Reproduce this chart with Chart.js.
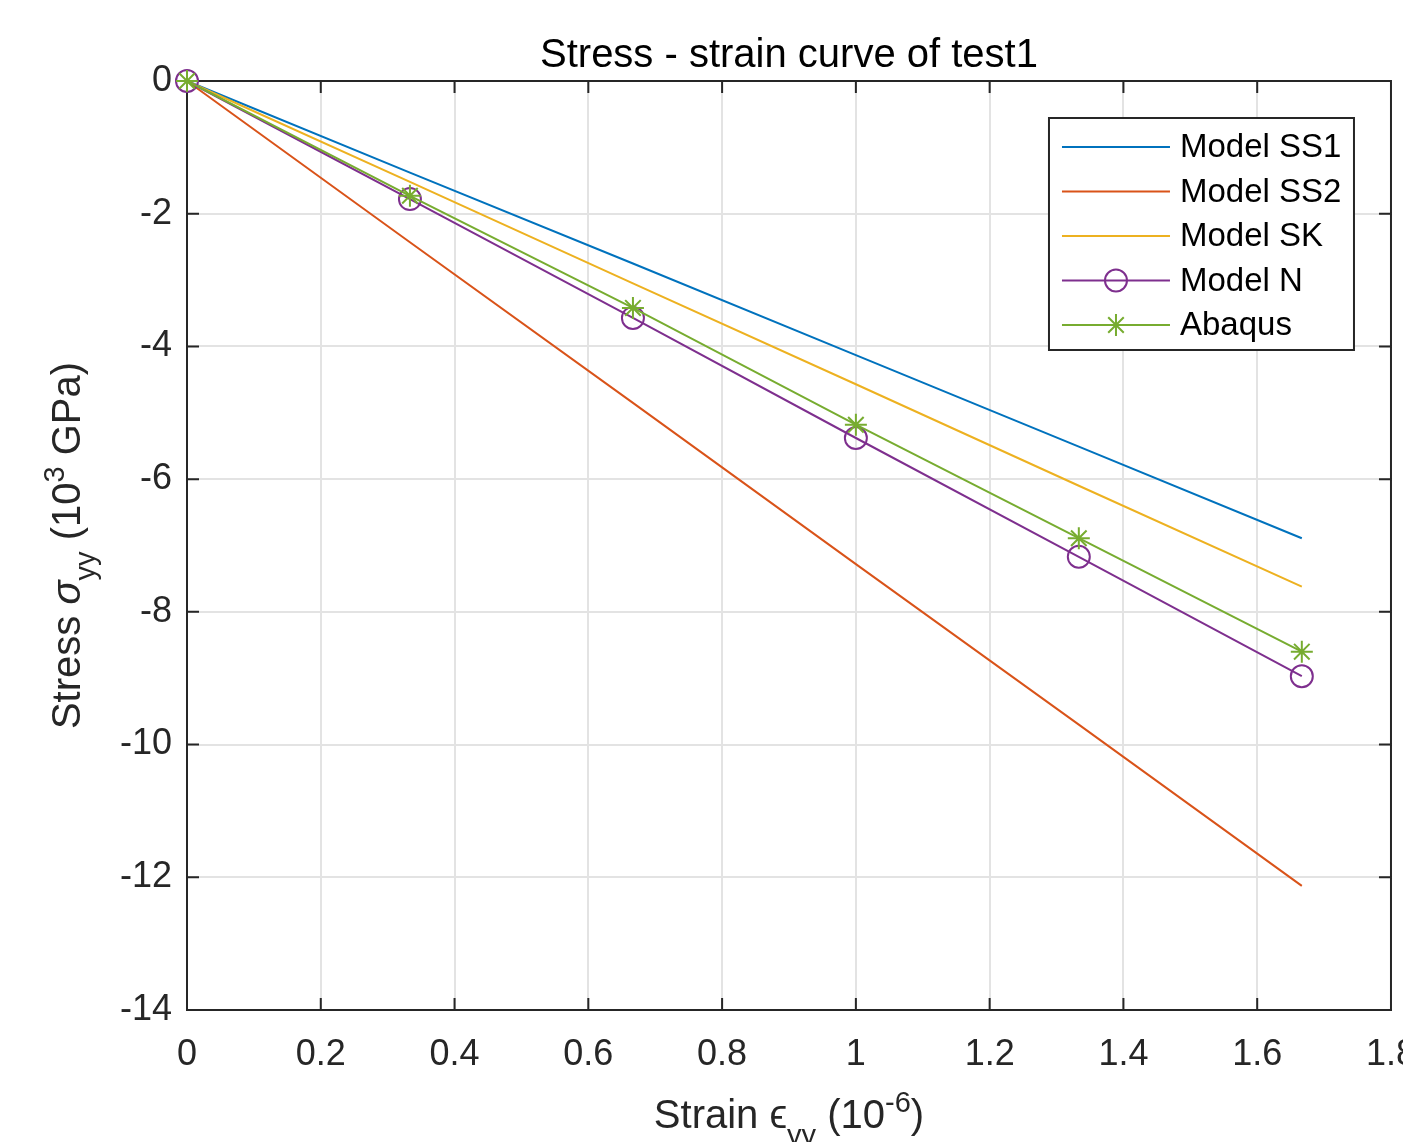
<!DOCTYPE html>
<html>
<head>
<meta charset="utf-8">
<title>Stress - strain curve of test1</title>
<script src="https://cdn.jsdelivr.net/npm/chart.js@4.4.0/dist/chart.umd.min.js"></script>
<style>
  html, body { margin: 0; padding: 0; background: #ffffff; overflow: hidden; }
  canvas { display: block; }
</style>
</head>
<body>
<!-- wider than the window on purpose: the "1.8" label gets cut at the page edge -->
<canvas id="chart" width="1439" height="1142"></canvas>
<script>
const strain = [0, 0.3333, 0.6667, 1.0, 1.3333, 1.6667];
const modelSS1 = [0, -1.38, -2.75, -4.13, -5.51, -6.89];
const modelSS2 = [0, -2.43, -4.85, -7.28, -9.70, -12.13];
const modelSK = [0, -1.52, -3.05, -4.57, -6.10, -7.62];
const modelN = [0, -1.78, -3.57, -5.38, -7.17, -8.97];
const abaqus = [0, -1.73, -3.42, -5.18, -6.89, -8.60];

const seriesNames = ["Model SS1", "Model SS2", "Model SK", "Model N", "Abaqus"];

const xTicks = [0, 0.2, 0.4, 0.6, 0.8, 1, 1.2, 1.4, 1.6, 1.8];
const xTickLabels = ["0", "0.2", "0.4", "0.6", "0.8", "1", "1.2", "1.4", "1.6", "1.8"];
const yTicks = [0, -2, -4, -6, -8, -10, -12, -14];
const yTickLabels = ["0", "-2", "-4", "-6", "-8", "-10", "-12", "-14"];

const FONT = "'Liberation Sans', Arial, Helvetica, sans-serif";
const AXIS_COLOR = "#262626";

(function () {
  function toPoints(values) {
    return strain.map((x, i) => ({ x: x, y: values[i] }));
  }

  // text with sub/superscripts, drawn left to right from a centre point
  function drawRichText(ctx, segments, cx, baseline) {
    let total = 0;
    segments.forEach((seg) => {
      ctx.font = `${seg.italic ? "italic " : ""}${seg.size}px ${FONT}`;
      seg.w = ctx.measureText(seg.text).width;
      total += seg.w;
    });
    let x = cx - total / 2;
    ctx.textAlign = "left";
    ctx.textBaseline = "alphabetic";
    segments.forEach((seg) => {
      ctx.font = `${seg.italic ? "italic " : ""}${seg.size}px ${FONT}`;
      ctx.fillText(seg.text, x, baseline + (seg.dy || 0));
      x += seg.w;
    });
  }

  const axesFramePlugin = {
    id: "axesFramePlugin",
    beforeDatasetsDraw(chart) {
      const { ctx, chartArea, scales } = chart;
      const len = 12;
      ctx.save();
      ctx.strokeStyle = AXIS_COLOR;
      ctx.lineWidth = 2;
      ctx.beginPath();
      ctx.rect(chartArea.left, chartArea.top, chartArea.width, chartArea.height);
      xTicks.forEach((v) => {
        const x = scales.x.getPixelForValue(v);
        ctx.moveTo(x, chartArea.bottom);
        ctx.lineTo(x, chartArea.bottom - len);
        ctx.moveTo(x, chartArea.top);
        ctx.lineTo(x, chartArea.top + len);
      });
      yTicks.forEach((v) => {
        const y = scales.y.getPixelForValue(v);
        ctx.moveTo(chartArea.left, y);
        ctx.lineTo(chartArea.left + len, y);
        ctx.moveTo(chartArea.right, y);
        ctx.lineTo(chartArea.right - len, y);
      });
      ctx.stroke();
      ctx.restore();
    }
  };

  const labelsPlugin = {
    id: "labelsPlugin",
    afterDraw(chart) {
      const { ctx, chartArea } = chart;
      const cx = (chartArea.left + chartArea.right) / 2;
      ctx.save();
      ctx.fillStyle = "#000000";
      ctx.font = `40px ${FONT}`;
      ctx.textAlign = "center";
      ctx.textBaseline = "alphabetic";
      ctx.fillText("Stress - strain curve of test1", cx, 67);

      ctx.fillStyle = AXIS_COLOR;
      drawRichText(ctx, [
        { text: "Strain ", size: 40 },
        { text: "\u03F5", size: 40 },
        { text: "yy", size: 29, dy: 17 },
        { text: " (10", size: 40 },
        { text: "-6", size: 29, dy: -16 },
        { text: ")", size: 40 }
      ], cx, 1128);

      ctx.translate(80, (chartArea.top + chartArea.bottom) / 2);
      ctx.rotate(-Math.PI / 2);
      drawRichText(ctx, [
        { text: "Stress ", size: 40 },
        { text: "\u03C3", size: 40, italic: true },
        { text: "yy", size: 29, dy: 15 },
        { text: " (10", size: 40 },
        { text: "3", size: 29, dy: -16 },
        { text: " GPa)", size: 40 }
      ], 0, 0);
      ctx.restore();
    }
  };

  const boxLegendPlugin = {
    id: "boxLegendPlugin",
    afterDraw(chart) {
      const { ctx, chartArea } = chart;
      const boxW = 305;
      const boxH = 232;
      const left = chartArea.right - 37 - boxW;
      const top = chartArea.top + 37;
      const rowGap = 44.5;
      ctx.save();
      ctx.fillStyle = "#ffffff";
      ctx.fillRect(left, top, boxW, boxH);
      ctx.strokeStyle = AXIS_COLOR;
      ctx.lineWidth = 2;
      ctx.strokeRect(left, top, boxW, boxH);

      chart.data.datasets.forEach((ds, i) => {
        const y = top + 29 + rowGap * i;
        const x0 = left + 13;
        const x1 = left + 121;
        const xm = (x0 + x1) / 2;
        ctx.strokeStyle = ds.borderColor;
        ctx.lineWidth = 2;
        ctx.beginPath();
        ctx.moveTo(x0, y);
        ctx.lineTo(x1, y);
        ctx.stroke();
        if (ds.pointRadius > 0) {
          const r = ds.pointRadius;
          ctx.beginPath();
          if (ds.pointStyle === "circle") {
            ctx.arc(xm, y, r, 0, Math.PI * 2);
          } else {
            for (let k = 0; k < 4; k++) {
              const a = (Math.PI / 4) * k;
              ctx.moveTo(xm - r * Math.cos(a), y - r * Math.sin(a));
              ctx.lineTo(xm + r * Math.cos(a), y + r * Math.sin(a));
            }
          }
          ctx.stroke();
        }
        ctx.fillStyle = "#000000";
        ctx.font = `33px ${FONT}`;
        ctx.textAlign = "left";
        ctx.textBaseline = "middle";
        ctx.fillText(ds.label, left + 131, y + 1);
      });
      ctx.restore();
    }
  };

  function lineDataset(label, values, color, order, marker) {
    return {
      label: label,
      data: toPoints(values),
      borderColor: color,
      backgroundColor: "transparent",
      borderWidth: 2,
      tension: 0,
      clip: false,
      order: order,
      pointStyle: marker || "circle",
      pointRadius: marker ? 11 : 0,
      pointBorderWidth: 2,
      pointBorderColor: color,
      pointBackgroundColor: "transparent",
      pointHoverRadius: marker ? 11 : 0
    };
  }

  new Chart(document.getElementById("chart"), {
    type: "line",
    data: {
      datasets: [
        lineDataset(seriesNames[0], modelSS1, "#0072BD", 4),
        lineDataset(seriesNames[1], modelSS2, "#D95319", 3),
        lineDataset(seriesNames[2], modelSK, "#EDB120", 2),
        lineDataset(seriesNames[3], modelN, "#7E2F8E", 1, "circle"),
        lineDataset(seriesNames[4], abaqus, "#77AC30", 0, "star")
      ]
    },
    plugins: [axesFramePlugin, labelsPlugin, boxLegendPlugin],
    options: {
      responsive: false,
      animation: false,
      devicePixelRatio: 1,
      layout: { padding: { left: 0, top: 81, right: 0, bottom: 0 } },
      plugins: {
        legend: { display: false },
        title: { display: false },
        tooltip: { enabled: false }
      },
      scales: {
        x: {
          type: "linear",
          min: 0,
          max: 1.8,
          afterFit(scale) { scale.height = 132; },
          afterBuildTicks(scale) { scale.ticks = xTicks.map((v) => ({ value: v })); },
          ticks: {
            autoSkip: false,
            maxRotation: 0,
            padding: 23,
            color: AXIS_COLOR,
            font: { family: FONT, size: 36 },
            callback: (v, i) => xTickLabels[i]
          },
          grid: { color: "#e3e3e3", lineWidth: 2, drawTicks: false },
          border: { display: true, color: AXIS_COLOR, width: 2 }
        },
        y: {
          type: "linear",
          min: -14,
          max: 0,
          afterFit(scale) { scale.width = 187; },
          afterBuildTicks(scale) { scale.ticks = yTicks.map((v) => ({ value: v })); },
          ticks: {
            autoSkip: false,
            padding: 15,
            color: AXIS_COLOR,
            font: { family: FONT, size: 36 },
            callback: (v, i) => yTickLabels[i]
          },
          grid: { color: "#e3e3e3", lineWidth: 2, drawTicks: false },
          border: { display: true, color: AXIS_COLOR, width: 2 }
        }
      }
    }
  });
})();
</script>
</body>
</html>
